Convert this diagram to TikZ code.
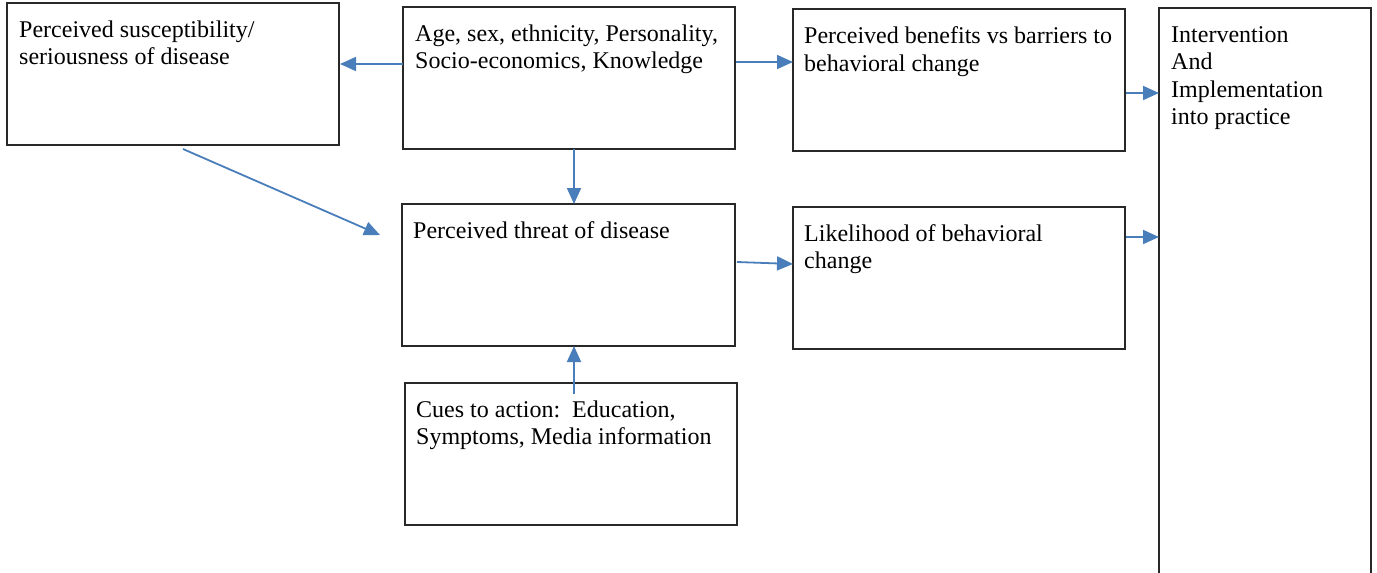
\documentclass[tikz,border=0pt]{standalone}
\usepackage{fontspec}
\setmainfont{Liberation Serif}
\usetikzlibrary{arrows.meta}
\definecolor{arrowblue}{RGB}{74,126,187}
\definecolor{boxline}{RGB}{40,40,40}
\tikzset{
  box/.style={draw=boxline, line width=1.3pt, rectangle, inner sep=0pt, outer sep=0pt, anchor=north west, minimum height=142pt},
  boxtext/.style={anchor=north west, inner sep=0pt, align=left, font=\fontsize{24}{27.5}\selectfont},
  arr/.style={draw=arrowblue, line width=1.8pt, -{Triangle[length=16pt,width=14pt]}, shorten <=0pt}
}
\begin{document}
\begin{tikzpicture}[x=1pt,y=-1pt]
\clip (0,0) rectangle (1377,573);
\fill[white] (0,0) rectangle (1377,573);
% boxes
\node[box, minimum width=332pt] (sus) at (7,3) {};
\node[box, minimum width=332pt] (age) at (403,7) {};
\node[box, minimum width=332pt] (ben) at (793,9) {};
\node[box, minimum width=212pt, minimum height=600pt] (int) at (1159,8) {};
\node[box, minimum width=333pt] (thr) at (402,204) {};
\node[box, minimum width=332pt] (lik) at (793,207) {};
\node[box, minimum width=332pt] (cue) at (405,383) {};
% texts
\node[boxtext] (tsus) at ([shift={(12pt,-17.5pt)}]sus.north west) {Perceived susceptibility/\\seriousness of disease};
\node[boxtext] (tage) at ([shift={(12pt,-17.5pt)}]age.north west) {Age, sex, ethnicity, Personality,\\Socio-economics, Knowledge};
\node[boxtext] (tben) at ([shift={(11pt,-17.5pt)}]ben.north west) {Perceived benefits vs barriers to\\behavioral change};
\node[boxtext] (tint) at ([shift={(12pt,-18pt)}]int.north west) {Intervention\\And\\Implementation\\into practice};
\node[boxtext] (tthr) at ([shift={(11pt,-17pt)}]thr.north west) {Perceived threat of disease};
\node[boxtext] (tlik) at ([shift={(11pt,-17pt)}]lik.north west) {Likelihood of behavioral\\change};
\node[boxtext] (tcue) at ([shift={(11pt,-17.5pt)}]cue.north west) {Cues to action:\ \ Education,\\Symptoms, Media information};
% free ends of the diagonal connector
\coordinate (dstart) at ([shift={(176pt,-4pt)}]sus.south west);
\coordinate (dend) at ([shift={(-22pt,-31pt)}]thr.north west);
% connectors
\draw[arr] ([yshift=-57pt]age.north west) -- ([xshift=1pt,yshift=-61pt]sus.north east);
\draw[arr] ([xshift=1pt,yshift=-55pt]age.north east) -- ([yshift=-53pt]ben.north west);
\draw[arr] ([xshift=1pt,yshift=-84pt]ben.north east) -- ([yshift=-85pt]int.north west);
\draw[arr] ([xshift=5pt]age.south) -- ([xshift=5.5pt]thr.north);
\draw[arr] (dstart) -- (dend);
\draw[arr] ([xshift=2pt,yshift=-58pt]thr.north east) -- ([yshift=-57pt]lik.north west);
\draw[arr] ([xshift=1pt,yshift=-30pt]lik.north east) -- ([yshift=-229pt]int.north west);
\draw[arr] ([xshift=3pt,yshift=-11pt]cue.north) -- ([xshift=5.5pt]thr.south);
\end{tikzpicture}
\end{document}
